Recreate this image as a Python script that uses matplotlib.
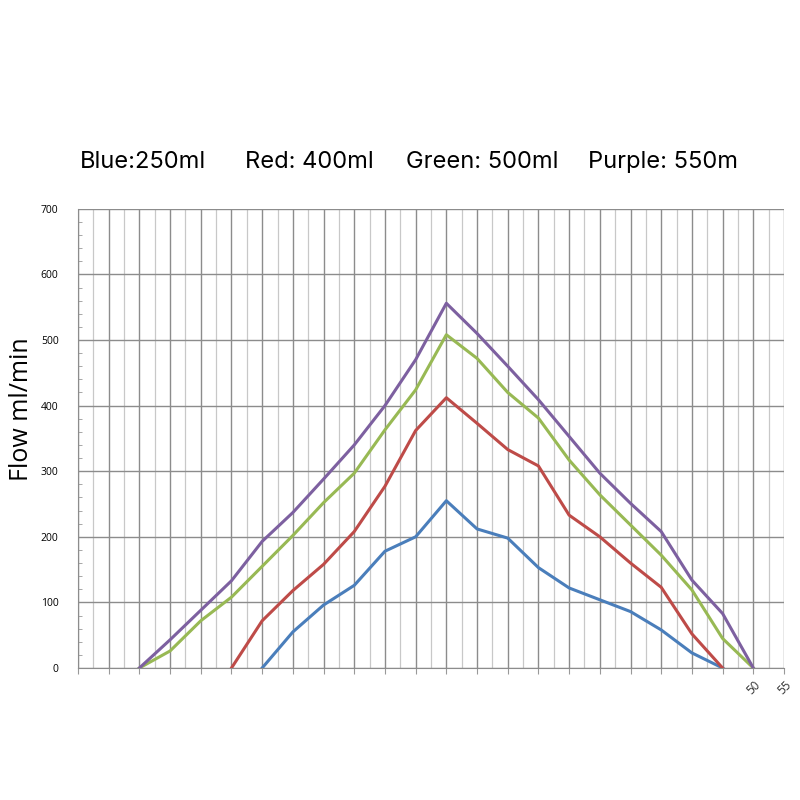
import numpy as np
import matplotlib.pyplot as plt

# category axis: 24 major positions, only the last two labels are readable
x_labels = [""] * 22 + ["50", "55"]

# flow readings (ml/min), one value per major position, None = no reading
blue = [None] * 6 + [0, 55, 96, 126, 178, 200, 255, 212, 198, 153, 122, 104, 86, 58, 23, 0] + [None] * 2
red = [None] * 5 + [0, 72, 118, 158, 208, 277, 362, 412, 373, 333, 308, 233, 200, 160, 123, 52, 0] + [None] * 2
green = [None] * 2 + [0, 26, 72, 108, 155, 202, 252, 297, 363, 424, 508, 472, 420, 381, 317, 264, 218, 172, 119, 45, 0] + [None]
purple = [None] * 2 + [0, 43, 88, 133, 193, 237, 288, 340, 400, 470, 556, 510, 460, 409, 353, 297, 251, 208, 134, 83, 0] + [None]

series = [("Blue:250ml", blue, "#4a7ebb"),
          ("Red: 400ml", red, "#be4b48"),
          ("Green: 500ml", green, "#98b954"),
          ("Purple: 550m", purple, "#7d60a0")]

plt.rcParams['font.family'] = ['Open Sans', 'DejaVu Sans']

fig = plt.figure(figsize=(8, 8), dpi=100)
ax = fig.add_axes([0.0975, 0.165, 0.8825, 0.574])

x = np.arange(len(x_labels))
for name, vals, col in series:
    y = np.array([np.nan if v is None else v for v in vals], dtype=float)
    ax.plot(x, y, color=col, linewidth=2.2, zorder=3)

ax.set_xlim(0, len(x_labels) - 1)
ax.set_ylim(0, 700)
ax.set_xticks(x)
ax.set_xticklabels(x_labels, rotation=45, fontsize=8.5, color="#333333")
ax.set_xticks(x[:-1] + 0.5, minor=True)
ax.set_yticks(np.arange(0, 701, 100))
ax.set_yticks(np.arange(0, 701, 20), minor=True)
ax.tick_params(axis="y", labelsize=7.5, length=0, pad=14)
ax.tick_params(axis="y", which="minor", length=3, color="#999999", direction="in")
ax.tick_params(axis="x", which="major", length=4, color="#999999")
ax.tick_params(axis="x", which="minor", length=0)

ax.grid(axis="x", which="major", color="#8c8c8c", linewidth=1.0)
ax.grid(axis="x", which="minor", color="#c8c8c8", linewidth=0.9)
ax.grid(axis="y", which="major", color="#8c8c8c", linewidth=1.0)
ax.set_axisbelow(True)

for s in ["top", "right"]:
    ax.spines[s].set_visible(False)
for s in ["left", "bottom"]:
    ax.spines[s].set_color("#8c8c8c")

fig.text(0.027, 0.489, "Flow ml/min", rotation=90, fontsize=18, va="center", ha="center")

# header with the volume of each series
hx = [0.1, 0.306, 0.5075, 0.735]
for (name, vals, col), xp in zip(series, hx):
    fig.text(xp, 0.797, name, fontsize=17, va="center", ha="left", family=["Inter", "DejaVu Sans"])

fig.savefig("out.png", dpi=100, facecolor="white")
